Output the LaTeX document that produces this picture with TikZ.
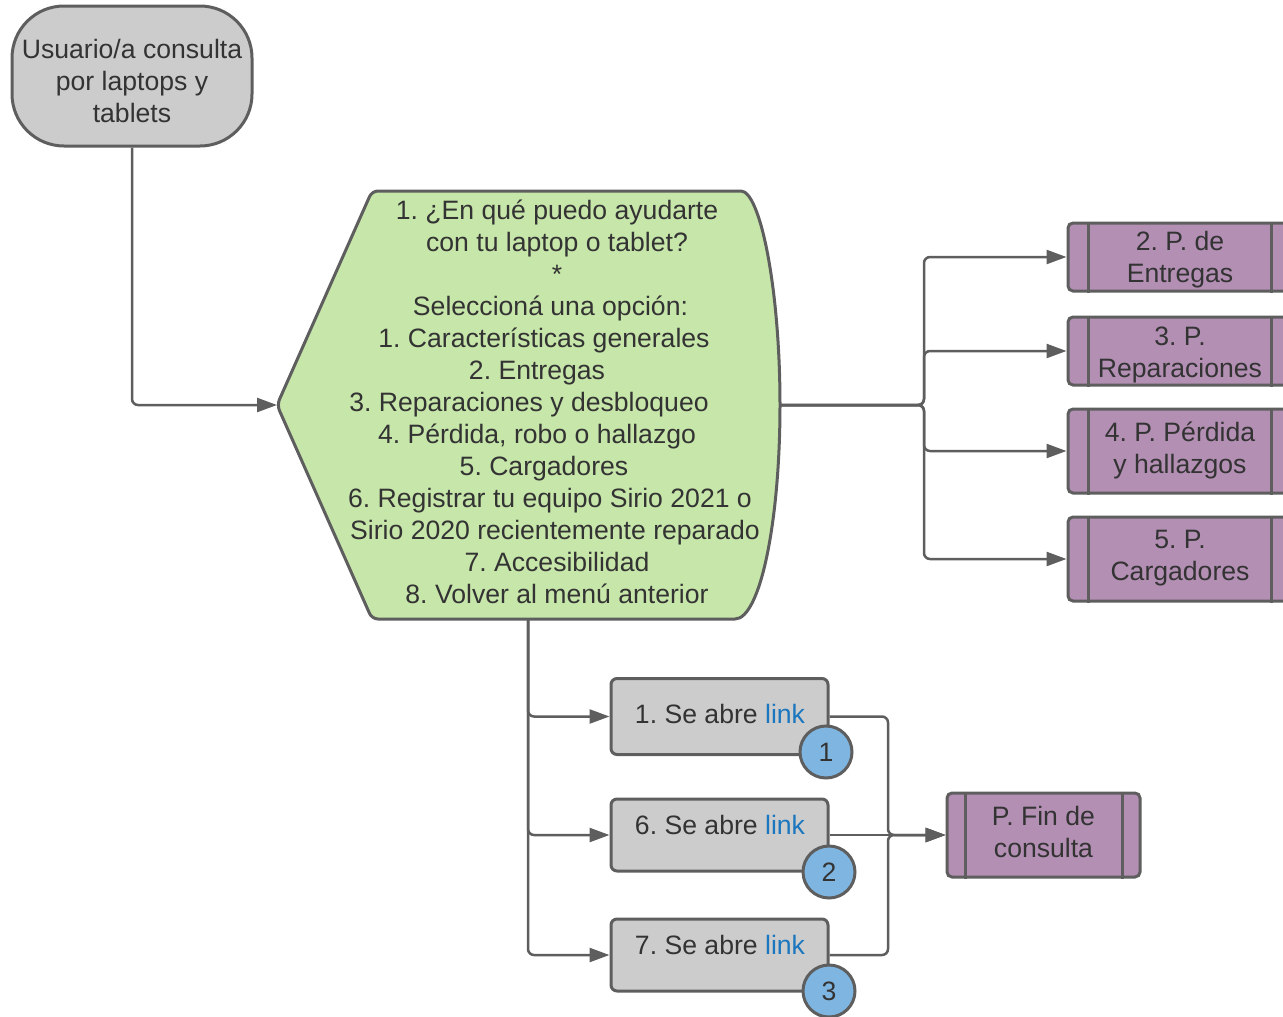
\documentclass[tikz,border=0pt]{standalone}
\usepackage{fontspec}
\setmainfont{Liberation Sans}
\usetikzlibrary{arrows.meta}
\frenchspacing

\definecolor{edgegray}{HTML}{5E5E5E}
\definecolor{textgray}{HTML}{333333}
\definecolor{startfill}{HTML}{CCCCCC}
\definecolor{menufill}{HTML}{C7E6AA}
\definecolor{procfill}{HTML}{B38FB4}
\definecolor{badgefill}{HTML}{7FB6E1}
\definecolor{linkblue}{HTML}{1A76BE}

% invisible padding at the end of a centred line
\newcommand{\padR}[1]{\rule{#1}{0pt}}

\tikzset{
  base/.style={draw=edgegray, line width=3pt, text=textgray,
    font=\fontsize{26.6}{32}\selectfont, align=center, inner sep=0pt},
  startbox/.style={base, fill=startfill, rounded corners=52pt,
    minimum width=240pt, minimum height=140pt},
  linkbox/.style={base, fill=startfill, rounded corners=6pt, minimum width=217pt},
  procbox/.style={base, fill=procfill, rounded corners=5pt},
  badge/.style={base, fill=badgefill, circle, minimum size=52pt},
  label/.style={text=textgray, font=\fontsize{26.6}{32}\selectfont, align=center, inner sep=0pt},
  flow/.style={draw=edgegray, line width=2.5pt, rounded corners=6pt,
    -{Triangle[length=20pt,width=14pt]}},
  bars/.style={draw=edgegray, line width=3pt},
}

\begin{document}
\begin{tikzpicture}[x=1pt,y=-1pt]
\useasboundingbox (0,0) rectangle (1283,1017);

% start of the conversation
\node[startbox] (start) at (132,76) {};
\node[label] (starttext) at (132,81) {Usuario/a consulta\\por laptops y\\tablets};

% main menu shape
\coordinate (menuL) at (277,405);
\coordinate (menuR) at (780,405);
\coordinate (menuB) at (528,619);
\draw[base, fill=menufill, rounded corners=6pt]
  (menuL) -- (372,191) -- (735,191)
  {[sharp corners] arc[start angle=90, end angle=-90, x radius=45pt, y radius=214pt]}
  -- (372,619) -- cycle;
\node[label] (menutext) at (557,402) {%
  1. ¿En qué puedo ayudarte\\
  con tu laptop o tablet?\\
  *\\
  Seleccioná una opción:\padR{13pt}\\
  1. Características generales\padR{26pt}\\
  2. Entregas\padR{40pt}\\
  3. Reparaciones y desbloqueo\padR{56pt}\\
  4. Pérdida, robo o hallazgo\padR{40pt}\\
  5. Cargadores\padR{26pt}\\
  6. Registrar tu equipo Sirio 2021 o\padR{14pt}\\
  Sirio 2020 recientemente reparado\padR{4pt}\\
  7. Accesibilidad\\
  8. Volver al menú anterior};

% sub-processes on the right
\node[procbox, minimum width=224pt, minimum height=68pt] (p2) at (1180,257) {};
\node[procbox, minimum width=224pt, minimum height=68pt] (p3) at (1180,351) {};
\node[procbox, minimum width=224pt, minimum height=84pt] (p4) at (1180,451) {};
\node[procbox, minimum width=224pt, minimum height=84pt] (p5) at (1180,559) {};
\node[label] (p2text) at (1180,260) {2. P. de\\Entregas};
\node[label] (p3text) at (1180,355) {3. P.\\Reparaciones};
\node[label] (p4text) at (1180,450) {4. P. Pérdida\\y hallazgos};
\node[label] (p5text) at (1180,558) {5. P.\\Cargadores};
\foreach \p in {p2,p3,p4,p5}{
  \draw[bars] ([xshift=22pt]\p.north west) -- ([xshift=22pt]\p.south west);
  \draw[bars] ([xshift=-22pt]\p.north east) -- ([xshift=-22pt]\p.south east);
}

% link boxes
\node[linkbox, minimum height=76pt] (l1) at (719.5,716.5) {};
\node[linkbox, minimum height=72pt] (l6) at (719.5,835) {};
\node[linkbox, minimum height=72pt] (l7) at (719.5,955) {};
\node[label] (l1text) at (720,714) {1. Se abre \textcolor{linkblue}{link}};
\node[label] (l6text) at (720,825) {6. Se abre \textcolor{linkblue}{link}};
\node[label] (l7text) at (720,945) {7. Se abre \textcolor{linkblue}{link}};
\node[badge] (b1) at (826,752) {1};
\node[badge] (b2) at (829,872) {2};
\node[badge] (b3) at (829,991) {3};

% end of the conversation
\node[procbox, minimum width=193pt, minimum height=84pt] (fin) at (1043.5,835) {};
\node[label] (fintext) at (1043.5,832) {P. Fin de\\consulta};
\draw[bars] ([xshift=20pt]fin.north west) -- ([xshift=20pt]fin.south west);
\draw[bars] ([xshift=-19pt]fin.north east) -- ([xshift=-19pt]fin.south east);

% connectors
\draw[flow] (start.south) |- (menuL);

\coordinate (jr) at (924,405);
\draw[flow] (menuR) -- (jr) |- (p2.west);
\draw[flow] (menuR) -- (jr) |- (p3.west);
\draw[flow] (menuR) -- (jr) |- (p4.west);
\draw[flow] (menuR) -- (jr) |- (p5.west);

\draw[flow] (menuB) |- (l1.west);
\draw[flow] (menuB) |- (l6.west);
\draw[flow] (menuB) |- (l7.west);

\coordinate (jf) at (888,835);
\draw[flow] (l1.east) -| (jf) -- (fin.west);
\draw[flow] (l6.east) -- (fin.west);
\draw[flow] (l7.east) -| (jf) -- (fin.west);
\end{tikzpicture}
\end{document}
